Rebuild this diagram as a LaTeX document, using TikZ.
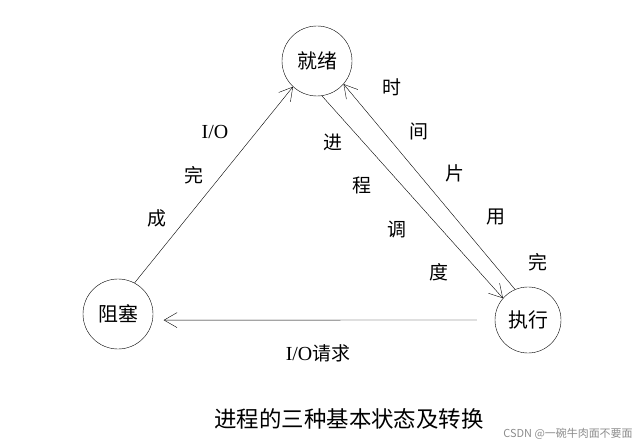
\documentclass[tikz,border=0pt]{standalone}
\usepackage{fontspec}
\setmainfont{Liberation Serif}
\newfontfamily\cjk{Noto Sans CJK SC}
\usetikzlibrary{arrows.meta}
\tikzset{
  state/.style={draw,circle,thin,inner sep=0pt,minimum size=70bp,font=\cjk\fontsize{20}{23}\selectfont},
  trans/.style={draw,thin,-{Straight Barb[length=13bp,width=15bp]}},
  lbl/.style={font=\cjk\fontsize{19}{22}\selectfont,inner sep=0pt},
}
\begin{document}
\begin{tikzpicture}[x=1bp,y=-1bp]
\useasboundingbox (0,0) rectangle (643,446);
\node[state] (jiuxu) at (317,61) {就绪};
\node[state] (zuse) at (118,314) {阻塞};
\node[state,minimum size=66bp] (zhixing) at (528,320) {执行};
\draw[trans] (zuse.62) -- (jiuxu.-133);
\draw[trans] (jiuxu.-82) -- (zhixing.139);
\draw[trans] (zhixing.113) -- (jiuxu.-41);
\draw[trans,shorten <=18bp,shorten >=11bp] (zhixing.west) -- (zuse.-10);
\node[lbl,font=\fontsize{20}{23}\selectfont] (io) at (215,132) {I/O};
\node[lbl] (wan1) at (194,175) {完};
\node[lbl] (cheng) at (157,218) {成};
\node[lbl] (jin) at (333,142) {进};
\node[lbl] (cheng2) at (362,185) {程};
\node[lbl] (tiao) at (397,230) {调};
\node[lbl] (du) at (439,272) {度};
\node[lbl] (shi) at (392,87) {时};
\node[lbl] (jian) at (419,131) {间};
\node[lbl] (pian) at (455,173) {片};
\node[lbl] (yong) at (496,217) {用};
\node[lbl] (wan2) at (538,262) {完};
\node[lbl] (qingqiu) at (318,353) {{\fontsize{20}{23}\selectfont\rmfamily I/O}请求};
\node[lbl,font=\cjk\fontsize{22.5}{26}\selectfont] (title) at (349,419) {进程的三种基本状态及转换};
\node[lbl,font=\cjk\fontsize{11}{13}\selectfont,text=black!45] (csdn) at (568,434) {CSDN @一碗牛肉面不要面};
\end{tikzpicture}
\end{document}
